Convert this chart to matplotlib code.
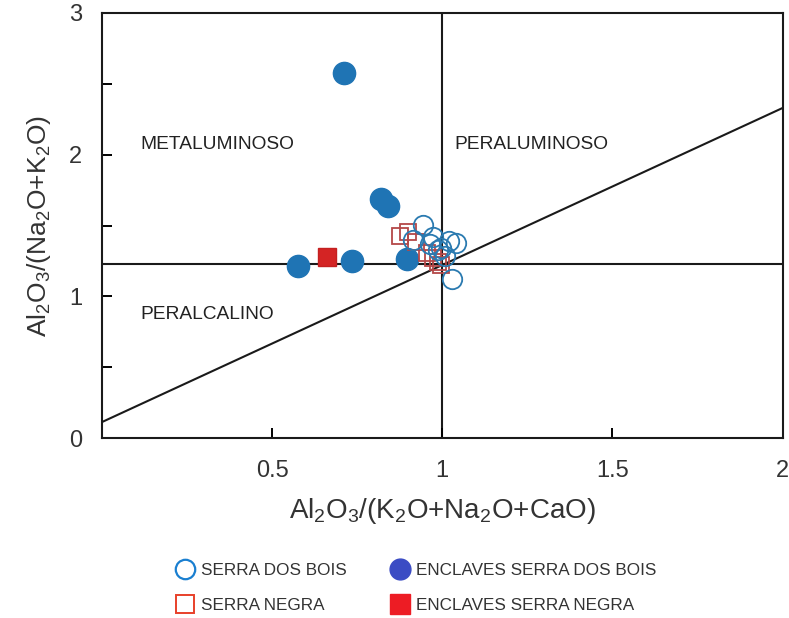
import matplotlib
matplotlib.use("Agg")
import matplotlib.pyplot as plt
from matplotlib.lines import Line2D
import numpy as np

plt.rcParams['font.family'] = ['Liberation Sans', 'DejaVu Sans']
plt.rcParams['mathtext.default'] = 'regular'

# Serra dos Bois (open circles)
sdb_x = [0.943, 0.913, 0.972, 1.019, 1.040, 0.996, 1.007, 0.987, 1.028, 0.963]
sdb_y = [1.503, 1.397, 1.419, 1.390, 1.376, 1.341, 1.284, 1.327, 1.122, 1.369]

# Serra Negra (open squares)
sn_x = [0.875, 0.899, 0.922, 0.954, 0.972, 0.987, 0.996]
sn_y = [1.426, 1.454, 1.383, 1.306, 1.270, 1.242, 1.221]

# Enclaves Serra dos Bois (filled circles)
esdb_x = [0.711, 0.821, 0.841, 0.576, 0.734, 0.896]
esdb_y = [2.58, 1.685, 1.639, 1.214, 1.249, 1.263]

# Enclaves Serra Negra (filled square)
esn_x = [0.661]
esn_y = [1.277]

# limites dos campos
y_limite = 1.228
linha_x = [0.0, 2.0]
linha_y = [0.113, 2.33]

fig = plt.figure(figsize=(7.89, 6.18), dpi=100)
ax = fig.add_axes([0.129, 0.291, 0.863, 0.688])

ax.plot(linha_x, linha_y, color='#1a1a1a', lw=1.5, zorder=1)
ax.axhline(y_limite, color='#1a1a1a', lw=1.5, zorder=1)
ax.axvline(1.0, color='#1a1a1a', lw=1.5, zorder=1)

ax.plot(esdb_x, esdb_y, 'o', ms=16, color='#1f74b4', mec='#1f74b4', zorder=3)
ax.plot(esn_x, esn_y, 's', ms=13, color='#d42424', mec='#c42020', zorder=3)
ax.plot(sn_x, sn_y, 's', ms=12, mfc='none', mec='#b44848', mew=1.3, zorder=4)
ax.plot(sdb_x, sdb_y, 'o', ms=14, mfc='none', mec='#2a7ab0', mew=1.3, zorder=5)

ax.text(0.112, 2.07, 'METALUMINOSO', fontsize=13.8, color='#222222', va='center')
ax.text(1.037, 2.07, 'PERALUMINOSO', fontsize=13.8, color='#222222', va='center')
ax.text(0.112, 0.875, 'PERALCALINO', fontsize=13.8, color='#222222', va='center')

ax.set_xlim(0, 2)
ax.set_ylim(0, 3)
ax.set_xticks([0.5, 1, 1.5, 2])
ax.set_xticklabels(['0.5', '1', '1.5', '2'])
ax.set_yticks([0, 0.5, 1, 1.5, 2, 2.5, 3])
ax.set_yticklabels(['0', '', '1', '', '2', '', '3'])
ax.tick_params(direction='in', length=7, width=1.4, labelsize=17, labelcolor='#333333')
ax.tick_params(axis='x', pad=16)
ax.tick_params(axis='y', pad=14)
for s in ax.spines.values():
    s.set_linewidth(1.5)
    s.set_color('#1a1a1a')

ax.set_xlabel('Al$_2$O$_3$/(K$_2$O+Na$_2$O+CaO)', fontsize=20, color='#333333', labelpad=10)
ax.set_ylabel('Al$_2$O$_3$/(Na$_2$O+K$_2$O)', fontsize=19, color='#333333', labelpad=12)

handles = [
    Line2D([], [], ls='none', marker='o', ms=14, mfc='none', mec='#1a7fd0', mew=1.6),
    Line2D([], [], ls='none', marker='s', ms=13, mfc='none', mec='#e8402a', mew=1.4),
    Line2D([], [], ls='none', marker='o', ms=15, color='#3b4cc4'),
    Line2D([], [], ls='none', marker='s', ms=14, color='#ed1c24'),
]
labels = ['SERRA DOS BOIS', 'SERRA NEGRA', 'ENCLAVES SERRA DOS BOIS', 'ENCLAVES SERRA NEGRA']
leg = fig.legend(handles, labels, ncol=2, loc='center', bbox_to_anchor=(0.527, 0.049),
                 frameon=False, fontsize=12.3, handletextpad=0.35, columnspacing=2.5,
                 labelspacing=1.15, handlelength=1.2)
for t in leg.get_texts():
    t.set_color('#333333')

fig.savefig('out.png', dpi=100)
